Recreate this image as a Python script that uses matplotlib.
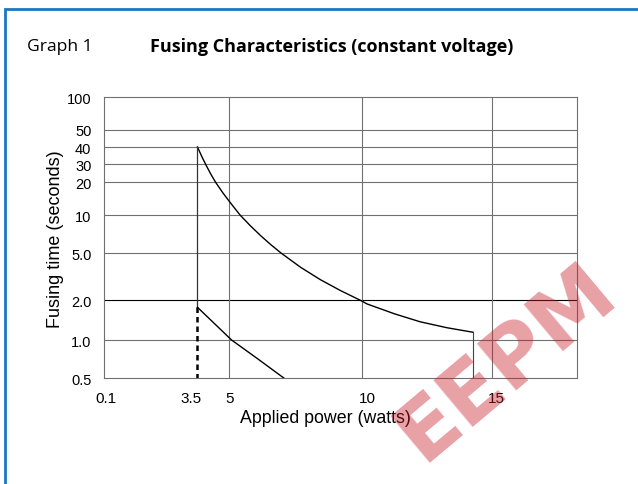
import numpy as np
import matplotlib
matplotlib.use("Agg")
import matplotlib.pyplot as plt
from matplotlib.patches import Rectangle
from matplotlib.transforms import ScaledTranslation
from matplotlib.ticker import FixedLocator, FixedFormatter, NullLocator

# axis ticks
x_ticks = [0.1, 3.5, 5, 10, 15]
x_tick_labels = ["0.1", "3.5", "5", "10", "15"]
x_max = 18.3
y_ticks = [0.5, 1, 2, 5, 10, 20, 30, 40, 50, 100]
y_tick_labels = ["0.5", "1.0", "2.0", "5.0", "10", "20", "30", "40", "50", "100"]

# curves (watts, seconds)
upper_x = [3.5, 3.72, 3.93, 4.14, 4.35, 4.69, 5.02, 5.40, 5.78, 6.17, 6.56, 6.95,
           7.69, 8.44, 9.19, 9.95, 10.21, 11.28, 12.24, 13.27, 14.29]
upper_y = [40, 33.6, 28.5, 23.7, 20, 16.0, 13.1, 10.0, 8.26, 6.89, 5.83, 5.0,
           3.79, 2.98, 2.42, 2.0, 1.875, 1.575, 1.376, 1.24, 1.144]
lower_x = [3.5, 5.08, 6.09, 7.07]
lower_y = [1.77, 1.0, 0.706, 0.5]

# the printed chart has uneven tick spacing, so each axis gets its own scale
x_frac = [0, 0.1975, 0.2651, 0.5445, 0.8192, 1.0]
y_frac = [0, 0.1363, 0.2776, 0.4459, 0.5811, 0.6975, 0.7626, 0.8231, 0.8847, 1.0]
x_anchor = x_ticks + [x_max]
y_log = np.log10(y_ticks)


def x_fwd(v):
    return np.interp(v, x_anchor, x_frac)


def x_inv(f):
    return np.interp(f, x_frac, x_anchor)


def y_fwd(v):
    v = np.clip(np.asarray(v, dtype=float), 1e-6, None)
    return np.interp(np.log10(v), y_log, y_frac)


def y_inv(f):
    return 10 ** np.interp(f, y_frac, y_log)


fig = plt.figure(figsize=(6.38, 4.85), dpi=100)
ax = fig.add_axes([0.163, 0.2179, 0.7419, 0.5794])
ax.set_xscale("function", functions=(x_fwd, x_inv))
ax.set_yscale("function", functions=(y_fwd, y_inv))
ax.set_xlim(0.1, x_max)
ax.set_ylim(0.5, 100)

grey = "#707070"
for y in y_ticks[1:-1]:
    ax.axhline(y, color="black" if y == 2 else grey, lw=0.8, zorder=1)
for x in x_ticks[2:]:
    ax.axvline(x, color=grey, lw=0.8, zorder=1)

ax.plot(upper_x, upper_y, color="black", lw=1.0, zorder=3)
ax.plot([upper_x[-1], upper_x[-1]], [upper_y[-1], 0.5], color="#444444", lw=0.8, zorder=3)
ax.plot([3.5, 3.5], [upper_y[0], lower_y[0]], color="#333333", lw=0.9, zorder=3)
ax.plot([3.5, 3.5], [lower_y[0], 0.5], color="black", lw=1.8, ls=(0, (2.2, 1.6)), zorder=3)
ax.plot(lower_x, lower_y, color="black", lw=1.0, zorder=3)

for s in ax.spines.values():
    s.set_color(grey)
    s.set_linewidth(0.8)

ax.xaxis.set_major_locator(FixedLocator(x_ticks))
ax.xaxis.set_major_formatter(FixedFormatter(x_tick_labels))
ax.yaxis.set_major_locator(FixedLocator(y_ticks))
ax.yaxis.set_major_formatter(FixedFormatter(y_tick_labels))
ax.xaxis.set_minor_locator(NullLocator())
ax.yaxis.set_minor_locator(NullLocator())
ax.tick_params(axis="x", length=0, pad=9, labelsize=11)
ax.tick_params(axis="y", length=0, pad=9, labelsize=10.5)
for t in ax.get_xticklabels() + ax.get_yticklabels():
    t.set_fontfamily("Liberation Sans")

# x tick labels sit slightly off their lines in the print
label_shift = [2, -6, 0, 6, 5]
for t, dx in zip(ax.get_xticklabels(), label_shift):
    t.set_transform(t.get_transform() + ScaledTranslation(dx / 100, 0, fig.dpi_scale_trans))

ax.set_xlabel("Applied power (watts)", fontsize=12.8, family="Liberation Sans", va="center")
ax.xaxis.set_label_coords(0.468, -0.138)
ax.set_ylabel("Fusing time (seconds)", fontsize=13, family="Liberation Sans", va="center")
ax.yaxis.set_label_coords(-0.1035, 0.5)

fig.text(27 / 638, 1 - 47 / 485, "Graph 1", fontsize=12.6, family="Open Sans", va="center")
fig.text(150 / 638, 1 - 47 / 485, "Fusing Characteristics (constant voltage)",
         fontsize=13, family="Open Sans", fontweight="bold", va="center")

# blue page frame
fig.patches.append(Rectangle((5 / 638, -0.05), 1.2, 1.05 - 10 / 485, fill=False,
                             edgecolor="#1a78c2", lw=2, transform=fig.transFigure))

# watermark
fig.text(506 / 638, 1 - 362 / 485, "EEPM", fontsize=60, fontweight="bold",
         color="#c81e28", alpha=0.42, rotation=40, ha="center", va="center", zorder=10)

fig.savefig("out.png", dpi=100)
